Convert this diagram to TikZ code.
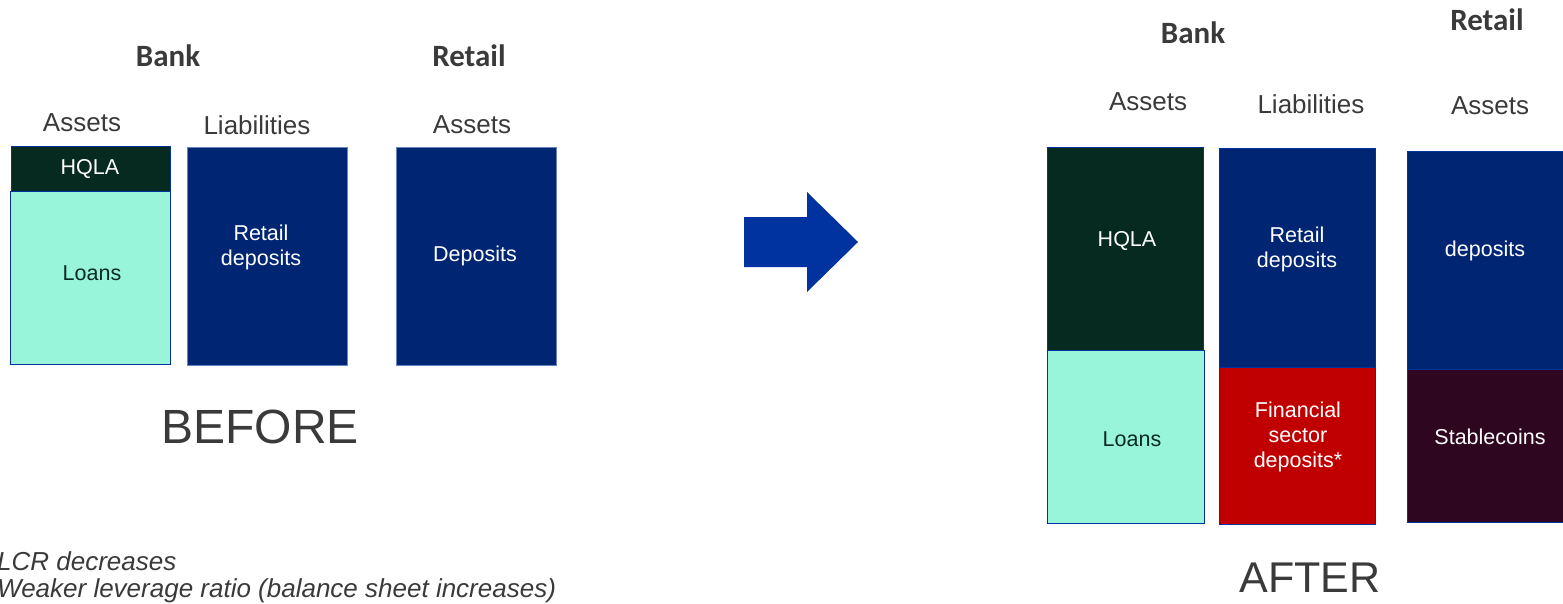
\documentclass[tikz,border=0pt]{standalone}
\usepackage{fontspec}
\setmainfont{Liberation Sans}
\newfontfamily\headfont{Carlito}
\definecolor{hqla}{HTML}{062A1F}
\definecolor{loan}{HTML}{98F5DA}
\definecolor{navy}{HTML}{002673}
\definecolor{fin}{HTML}{C00000}
\definecolor{stab}{HTML}{2E061F}
\definecolor{edge}{HTML}{0033A0}
\definecolor{txt}{HTML}{3A3A3A}
\definecolor{arrowc}{HTML}{0033A0}
\tikzset{
  blk/.style={draw=edge, line width=1pt, anchor=north west, inner sep=2pt},
  lbl/.style={text=white, align=center, font=\fontsize{21.5}{25}\selectfont},
  head/.style={font=\headfont\bfseries\fontsize{31}{34}\selectfont, text=txt},
  sub/.style={font=\fontsize{26}{29}\selectfont, text=txt},
  big/.style={font=\fontsize{48}{52}\selectfont, text=txt},
  note/.style={font=\itshape\fontsize{26}{31}\selectfont, text=txt, anchor=base west, inner sep=0pt}
}
\begin{document}
\begin{tikzpicture}[x=1pt,y=-1pt]
\useasboundingbox (0,0) rectangle (1563,603);
% BEFORE
\node[head] (bankB) at (168,56) {Bank};
\node[head] (retailB) at (469,56) {Retail};
\node[sub] (assetsB) at (82,123) {Assets};
\node[sub] (liabB) at (257,125) {Liabilities};
\node[sub] (rassetsB) at (472,125) {Assets};
\node[blk, fill=hqla, minimum width=159pt, minimum height=45pt] (hqlaB) at (11,146) {};
\node[lbl] (hqlaBt) at (90,169) {HQLA};
\node[blk, fill=loan, minimum width=160pt, minimum height=173pt] (loansB) at (10,191) {};
\node[lbl, text=hqla] (loansBt) at (92,273) {Loans};
\node[blk, fill=navy, draw=edge!60, minimum width=160pt, minimum height=218pt] (rdepB) at (187,147) {};
\node[lbl] (rdepBt) at (261,247) {Retail\\deposits};
\node[blk, fill=navy, draw=edge!60, minimum width=160pt, minimum height=218pt] (depB) at (396,147) {};
\node[lbl] (depBt) at (475,256) {Deposits};
\node[big] (before) at (260,427) {BEFORE};
% arrow
\fill[arrowc] (744,217) -- (807,217) -- (807,192) -- (858,242) -- (807,292) -- (807,267) -- (744,267) -- cycle;
% notes
\node[note] (n1) at (-3,570) {LCR decreases};
\node[note] (n2) at (-3,597) {Weaker leverage ratio (balance sheet increases)};
% AFTER
\node[head] (bankA) at (1193,33) {Bank};
\node[head] (retailA) at (1487,20) {Retail};
\node[sub] (assetsA) at (1148,102) {Assets};
\node[sub] (liabA) at (1311,104) {Liabilities};
\node[sub] (rassetsA) at (1490,106) {Assets};
\node[blk, fill=hqla, minimum width=156pt, minimum height=204pt] (hqlaA) at (1047,147) {};
\node[lbl] (hqlaAt) at (1127,241) {HQLA};
\node[blk, fill=loan, minimum width=157pt, minimum height=173pt] (loansA) at (1047,350) {};
\node[lbl, text=hqla] (loansAt) at (1132,439) {Loans};
\node[blk, fill=navy, minimum width=156pt, minimum height=220pt] (rdepA) at (1219,148) {};
\node[lbl] (rdepAt) at (1297,249) {Retail\\deposits};
\node[blk, fill=fin, minimum width=156pt, minimum height=157pt] (finA) at (1219,367) {};
\node[lbl] (finAt) at (1298,437) {Financial\\sector\\deposits*};
\node[blk, fill=navy, minimum width=158pt, minimum height=219pt] (depA) at (1407,151) {};
\node[lbl] (depAt) at (1485,251) {deposits};
\node[blk, fill=stab, minimum width=158pt, minimum height=153pt] (stabA) at (1407,369) {};
\node[lbl] (stabAt) at (1490,437) {Stablecoins};
\node[big, font=\fontsize{43}{47}\selectfont] (after) at (1310,578) {AFTER};
\end{tikzpicture}
\end{document}
